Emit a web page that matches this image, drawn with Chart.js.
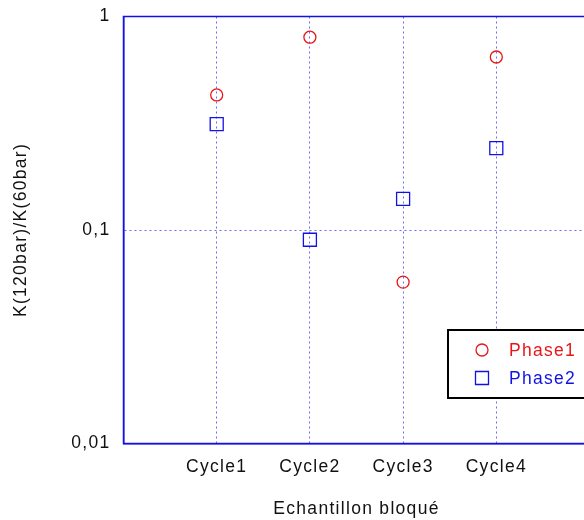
<!DOCTYPE html>
<html>
<head>
<meta charset="utf-8">
<script src="https://cdn.jsdelivr.net/npm/chart.js@4/dist/chart.umd.min.js"></script>
<style>
  html, body { margin: 0; padding: 0; background: #fff; overflow: hidden; }
  #wrap { width: 584px; height: 520px; overflow: hidden; }
  canvas { display: block; }
</style>
</head>
<body>
<div id="wrap"><canvas id="kChart" width="600" height="520"></canvas></div>
<script>
const cycles = ['Cycle1', 'Cycle2', 'Cycle3', 'Cycle4'];
const phase1 = [0.429, 0.80, 0.057, 0.646];
const phase2 = [0.313, 0.090, 0.140, 0.242];
const yTicks = [0.01, 0.1, 1];
const yTickLabels = ['0,01', '0,1', '1'];

const red = 'rgb(232,22,22)';
const blue = 'rgb(18,18,228)';
const gridBlue = 'rgba(80,80,245,0.85)';
const font = { family: 'Arial, "Liberation Sans", sans-serif', size: 17.5 };
const spacing = '1.3px';

Chart.defaults.font.family = font.family;
Chart.defaults.color = '#111';

// the reference text is set a bit wide, so widen the letters
const spacingPlugin = {
  id: 'spacing',
  beforeLayout(chart) { chart.ctx.letterSpacing = spacing; },
  beforeDraw(chart) { chart.ctx.letterSpacing = spacing; }
};

// frame round the plot and the boxed legend
const framePlugin = {
  id: 'frame',
  afterDraw(chart) {
    const ctx = chart.ctx, a = chart.chartArea;
    ctx.save();
    ctx.strokeStyle = blue;
    ctx.lineWidth = 1.5;
    ctx.strokeRect(a.left, a.top, a.right - a.left, a.bottom - a.top);

    // legend box
    const bx = 448, by = 330, bw = 200, bh = 68;
    ctx.fillStyle = '#fff';
    ctx.fillRect(bx, by, bw, bh);
    ctx.strokeStyle = '#000';
    ctx.lineWidth = 2;
    ctx.strokeRect(bx, by, bw, bh);
    ctx.font = font.size + 'px ' + font.family;
    ctx.letterSpacing = spacing;
    ctx.textBaseline = 'middle';
    chart.data.datasets.forEach((ds, i) => {
      const y = 350 + i * 28, x = 482;
      ctx.strokeStyle = ds.borderColor;
      ctx.lineWidth = 1.3;
      ctx.beginPath();
      if (ds.pointStyle === 'circle') ctx.arc(x, y, 6, 0, Math.PI * 2);
      else ctx.rect(x - 6.5, y - 6.5, 13, 13);
      ctx.stroke();
      ctx.fillStyle = ds.borderColor;
      ctx.fillText(ds.label, 509, y + 1);
    });
    ctx.restore();
  }
};

const dataK = {
  datasets: [{
    label: 'Phase1',
    data: phase1.map((v, i) => ({ x: i + 1, y: v })),
    borderColor: red,
    backgroundColor: 'rgba(0,0,0,0)',
    pointStyle: 'circle',
    pointRadius: 6,
    pointBorderWidth: 1.3,
    showLine: false
  }, {
    label: 'Phase2',
    data: phase2.map((v, i) => ({ x: i + 1, y: v })),
    borderColor: blue,
    backgroundColor: 'rgba(0,0,0,0)',
    pointStyle: 'rect',
    pointRadius: 9.2,
    pointBorderWidth: 1.3,
    showLine: false
  }]
};

const configK = {
  type: 'scatter',
  data: dataK,
  plugins: [spacingPlugin, framePlugin],
  options: {
    responsive: false,
    animation: false,
    layout: { padding: { top: 16.5, right: 7, left: 0, bottom: 0 } },
    plugins: { legend: { display: false }, tooltip: { enabled: false } },
    scales: {
      x: {
        type: 'linear',
        min: 0,
        max: 5,
        afterFit: s => { s.height = 76.5; s.paddingLeft = 0; s.paddingRight = 0; },
        afterBuildTicks: s => { s.ticks = cycles.map((c, i) => ({ value: i + 1 })); },
        ticks: {
          font: font,
          color: '#111',
          padding: 13,
          maxRotation: 0,
          callback: v => cycles[v - 1]
        },
        grid: { color: gridBlue, lineWidth: 1, drawTicks: false },
        border: { display: true, color: blue, width: 1.5, dash: [2, 3] },
        title: { display: true, text: 'Echantillon bloqué', font: font, color: '#111', padding: { top: 14, bottom: 0 } }
      },
      y: {
        type: 'logarithmic',
        min: 0.01,
        max: 1,
        afterFit: s => { s.width = 123.5; s.paddingTop = 0; s.paddingBottom = 0; },
        afterBuildTicks: s => { s.ticks = yTicks.map(v => ({ value: v })); },
        ticks: {
          font: font,
          color: '#111',
          padding: 13,
          callback: v => yTickLabels[yTicks.indexOf(v)]
        },
        grid: { color: gridBlue, lineWidth: 1, drawTicks: false },
        border: { display: true, color: blue, width: 1.5, dash: [2, 3] },
        title: { display: true, text: 'K(120bar)/K(60bar)', font: font, color: '#111', padding: { top: 11, bottom: 6 } }
      }
    }
  }
};

const chartK = document.getElementById('kChart');
var myChartK = new Chart(chartK, configK);
</script>
</body>
</html>
